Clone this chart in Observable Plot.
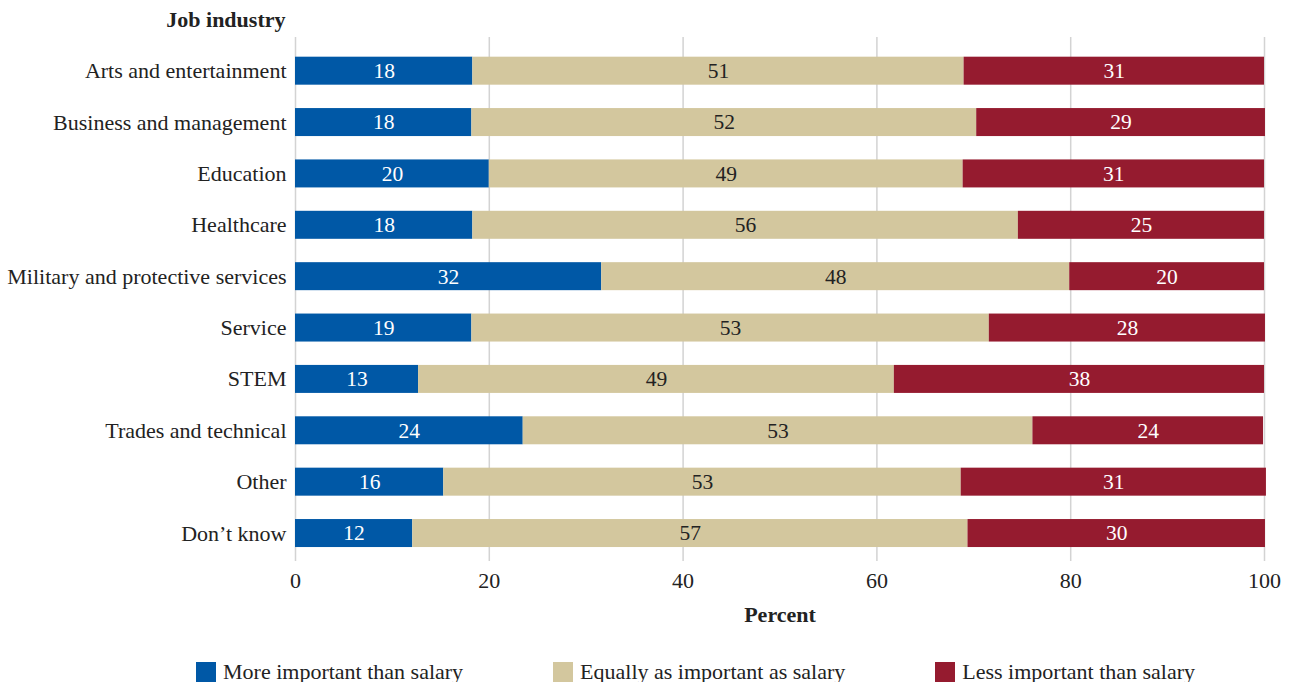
<!DOCTYPE html>
<html><head><meta charset="utf-8">
<script src="https://cdn.jsdelivr.net/npm/d3@7"></script>
<script src="https://cdn.jsdelivr.net/npm/@observablehq/plot@0.6"></script>
<style>
body{margin:0;background:#fff;font-family:"Liberation Serif",serif;color:#222}
#chart svg{display:block}
#legend{display:flex;gap:90px;padding-left:196px;margin-top:17px;font-size:22px;align-items:center;height:20px;line-height:20px;white-space:nowrap}
.item{display:flex;align-items:center;height:20px}
.sw{width:20px;height:20px;margin-right:7px;flex:none}
</style></head><body><div id="chart"></div><div id="legend"></div>
<script>
const industries = ["Arts and entertainment","Business and management","Education","Healthcare","Military and protective services","Service","STEM","Trades and technical","Other","Don\u2019t know"];
const responses = ["More important than salary","Equally as important as salary","Less important than salary"];
const colors = ["#0058a6","#d3c79e","#951b2f"];
const more  = [18.3, 18.2, 20.0, 18.3, 31.6, 18.2, 12.7, 23.5, 15.3, 12.1];
const equal = [50.7, 52.1, 48.9, 56.3, 48.3, 53.4, 49.1, 52.6, 53.4, 57.3];
const less  = [31.0, 29.8, 31.1, 25.4, 20.1, 28.5, 38.2, 23.8, 31.5, 30.7];
const moreLabels  = [18, 18, 20, 18, 32, 19, 13, 24, 16, 12];
const equalLabels = [51, 52, 49, 56, 48, 53, 49, 53, 53, 57];
const lessLabels  = [31, 29, 31, 25, 20, 28, 38, 24, 31, 30];
const xTicks = [0, 20, 40, 60, 80, 100];

const series = [[more, moreLabels], [equal, equalLabels], [less, lessLabels]];
const data = industries.flatMap((ind, i) => series.map(([v, l], k) => ({industry: ind, response: responses[k], value: v[i], label: l[i]})));

function onlyWhere(opts, pred) {
  const t = opts.transform;
  return {...opts, transform: (d, f, ...rest) => {
    const r = t(d, f, ...rest);
    return {...r, facets: r.facets.map(fi => Uint32Array.from(Array.from(fi).filter(i => pred(r.data[i]))))};
  }};
}
const stackOpts = () => Plot.stackX({x: "value", y: "industry", z: "response", order: responses, text: "label"});

const plot = Plot.plot({
  width: 1291, height: 645,
  marginLeft: 295, marginRight: 27, marginTop: 37, marginBottom: 84,
  style: {fontFamily: "'Liberation Serif', serif", fontSize: "22px", color: "#222", background: "#fff"},
  x: {domain: [0, 100]},
  y: {domain: industries, paddingInner: 0.455, paddingOuter: 0.3275, align: 0.585, round: false},
  color: {domain: responses, range: colors},
  marks: [
    Plot.gridX(xTicks, {stroke: "#d3d3d3", strokeOpacity: 1, strokeWidth: 1.5}),
    Plot.barX(data, Plot.stackX({x: "value", y: "industry", fill: "response", order: responses})),
    Plot.text(data, {...onlyWhere(stackOpts(), d => d.response !== responses[1]), fill: "#fff", fontSize: 21.5}),
    Plot.text(data, {...onlyWhere(stackOpts(), d => d.response === responses[1]), fill: "#222", fontSize: 21.5}),
    Plot.axisX(xTicks, {tickSize: 0, tickPadding: 11, label: null}),
    Plot.axisY({tickSize: 0, tickPadding: 9, label: null}),
    Plot.text(["Percent"], {frameAnchor: "bottom", dy: 60, lineAnchor: "bottom", fontWeight: "bold"}),
    Plot.text(["Job industry"], {frameAnchor: "top-left", textAnchor: "end", dx: -10, dy: -11, lineAnchor: "bottom", fontWeight: "bold"})
  ]
});
document.getElementById("chart").append(plot);

const legend = d3.select("#legend");
responses.forEach((r, k) => {
  const it = legend.append("div").attr("class", "item");
  it.append("div").attr("class", "sw").style("background", colors[k]);
  it.append("span").text(r);
});
</script></body></html>
